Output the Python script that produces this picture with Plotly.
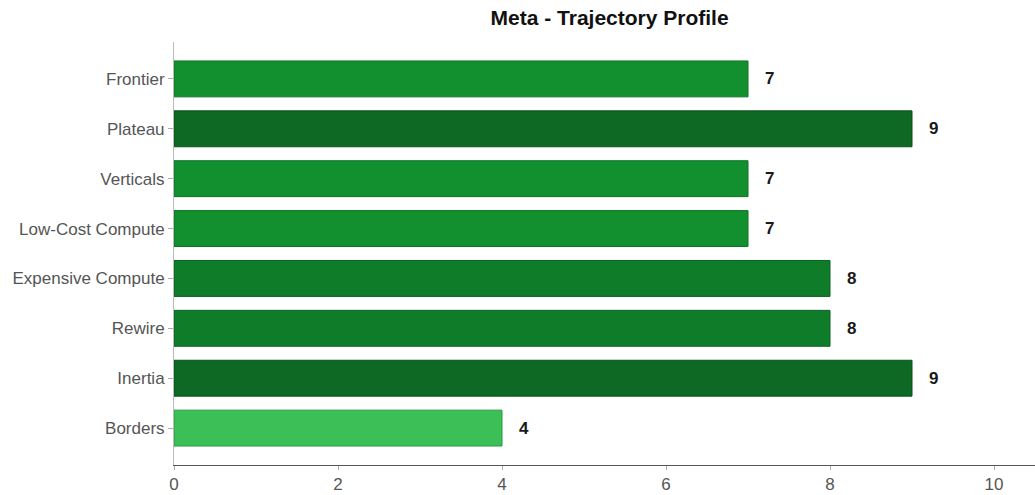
import plotly.graph_objects as go

categories = ["Frontier", "Plateau", "Verticals", "Low-Cost Compute",
              "Expensive Compute", "Rewire", "Inertia", "Borders"]
values = [7, 9, 7, 7, 8, 8, 9, 4]
color_map = {4: "#3dbf57", 7: "#12902f", 8: "#0f7c2a", 9: "#0d6924"}
line_map = {4: "#2a9a40", 7: "#0d7325", 8: "#0b6221", 9: "#09521b"}

colors = [color_map[v] for v in values]
lines = [line_map[v] for v in values]

fig = go.Figure(go.Bar(
    x=values, y=categories, orientation="h",
    marker=dict(color=colors, line=dict(color=lines, width=1)),
    width=0.72, hoverinfo="x+y",
))

for c, v in zip(categories, values):
    fig.add_annotation(x=v, y=c, text=f"<b>{v}</b>", showarrow=False,
                       xanchor="left", xshift=15,
                       font=dict(size=17, color="#1a1a1a", family="Liberation Sans, Arial"))

fig.update_layout(
    width=1035, height=495,
    margin=dict(l=174, r=0, t=42, b=30),
    plot_bgcolor="white", paper_bgcolor="white",
    title=dict(text="<b>Meta - Trajectory Profile</b>", x=0.589, xanchor="center",
               y=0.965, yanchor="middle",
               font=dict(size=21, color="#111", family="Liberation Sans, Arial")),
    font=dict(family="Liberation Sans, Arial", size=17, color="#555"),
    showlegend=False,
)
fig.update_xaxes(range=[0, 10.5], tickvals=[0, 2, 4, 6, 8, 10], showgrid=False,
                 zeroline=False, showline=True, linecolor="#555", linewidth=1,
                 ticks="outside", ticklen=4, tickcolor="#aaa",
                 tickfont=dict(size=17, color="#555"))
fig.update_yaxes(categoryorder="array", categoryarray=categories[::-1],
                 range=[-0.74, 7.74], showgrid=False, zeroline=False,
                 showline=True, linecolor="#bbb", linewidth=1,
                 ticks="outside", ticklen=5, tickcolor="#aaa",
                 tickfont=dict(size=17, color="#555"))

fig.write_html("out.html")
